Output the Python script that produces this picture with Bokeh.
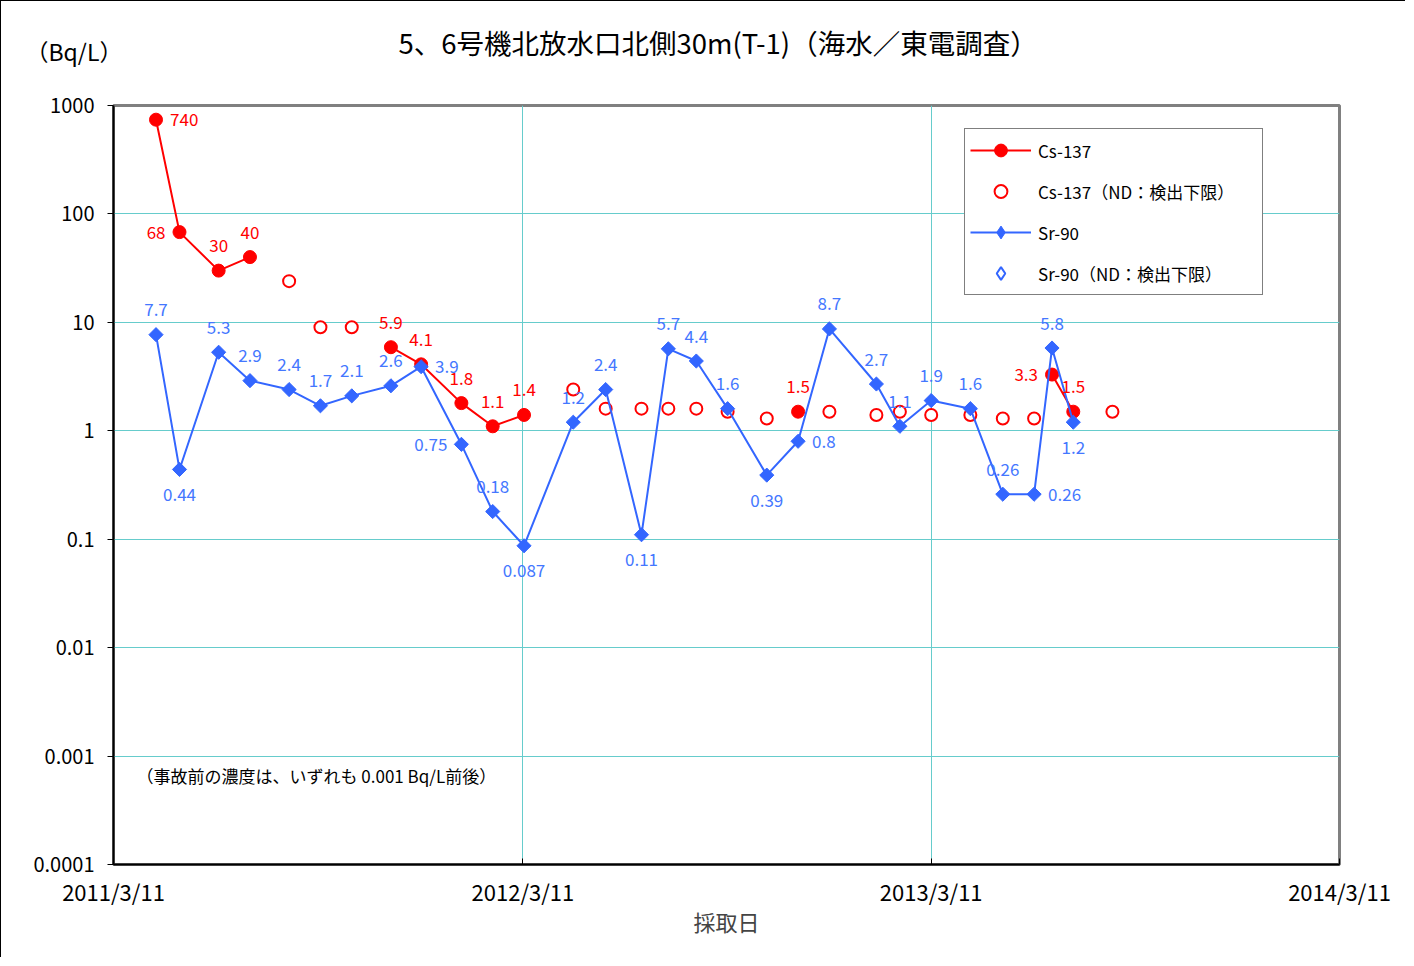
import math
import pandas as pd
from bokeh.plotting import figure
from bokeh.models import (ColumnDataSource, FixedTicker, Legend, LegendItem, Label, Range1d)
from bokeh.core.properties import value
from bokeh.embed import file_html
from bokeh.resources import INLINE

nan = float("nan")

# ---------------- data ----------------
dates = ["2011-04-18", "2011-05-09", "2011-06-13", "2011-07-11", "2011-08-15",
         "2011-09-12", "2011-10-10", "2011-11-14", "2011-12-11", "2012-01-16",
         "2012-02-13", "2012-03-12", "2012-04-25", "2012-05-24", "2012-06-25",
         "2012-07-19", "2012-08-13", "2012-09-10", "2012-10-15", "2012-11-12",
         "2012-12-10", "2013-01-21", "2013-02-11", "2013-03-11", "2013-04-15",
         "2013-05-14", "2013-06-11", "2013-06-27", "2013-07-16", "2013-08-20"]

cs137 = [740, 68, 30, 40, nan, nan, nan, 5.9, 4.1, 1.8,
         1.1, 1.4, nan, nan, nan, nan, nan, nan, nan, 1.5,
         nan, nan, nan, nan, nan, nan, nan, 3.3, 1.5, nan]

cs137_nd = [nan, nan, nan, nan, 24, 9, 9, nan, nan, nan,
            nan, nan, 2.4, 1.6, 1.6, 1.6, 1.6, 1.5, 1.3, nan,
            1.5, 1.4, 1.5, 1.4, 1.4, 1.3, 1.3, nan, nan, 1.5]

sr90 = [7.7, 0.44, 5.3, 2.9, 2.4, 1.7, 2.1, 2.6, 3.9, 0.75,
        0.18, 0.087, 1.2, 2.4, 0.11, 5.7, 4.4, 1.6, 0.39, 0.8,
        8.7, 2.7, 1.1, 1.9, 1.6, 0.26, 0.26, 5.8, 1.2, nan]

sr90_nd = [nan] * 30

# label placement: a=above, b=below, l=left, r=right
cs137_label_pos = ["r", "l", "a", "a", "", "", "", "a", "a", "a",
                   "a", "a", "", "", "", "", "", "", "", "a",
                   "", "", "", "", "", "", "", "l", "a", ""]
sr90_label_pos = ["a", "b", "a", "a", "a", "a", "a", "a", "r", "l",
                  "a", "b", "a", "a", "b", "a", "a", "a", "b", "r",
                  "a", "a", "a", "a", "a", "a", "r", "a", "b", ""]

x_tick_dates = ["2011-03-11", "2012-03-11", "2013-03-11", "2014-03-11"]
x_tick_labels = ["2011/3/11", "2012/3/11", "2013/3/11", "2014/3/11"]
y_ticks = [0.0001, 0.001, 0.01, 0.1, 1, 10, 100, 1000]
y_tick_labels = ["0.0001", "0.001", "0.01", "0.1", "1", "10", "100", "1000"]

title_text = "5、6号機北放水口北側30m(T-1)（海水／東電調査）"
unit_text = "（Bq/L）"
note_text = "（事故前の濃度は、いずれも 0.001 Bq/L前後）"
x_label = "採取日"
legend_labels = ["Cs-137", "Cs-137（ND：検出下限）", "Sr-90", "Sr-90（ND：検出下限）"]

# ---------------- styles ----------------
FONT = "Noto Sans CJK JP"
RED = "#FF0000"
BLUE = "#3366FF"
BLUE_TXT = "#4477FF"
GRID = "#66CCCC"

x = pd.to_datetime(dates)
epoch = pd.Timestamp("1970-01-01")


def ms(d):
    return (pd.Timestamp(d) - epoch) / pd.Timedelta(milliseconds=1)


src = ColumnDataSource(dict(x=x, cs=cs137, csnd=cs137_nd, sr=sr90, srnd=sr90_nd))

p = figure(width=1405, height=957, output_backend="svg", toolbar_location=None,
           x_axis_type="datetime", y_axis_type="log",
           x_range=Range1d(ms(x_tick_dates[0]), ms(x_tick_dates[-1])),
           y_range=Range1d(y_ticks[0], y_ticks[-1]),
           min_border_left=112, min_border_right=67, min_border_top=104,
           min_border_bottom=94)
p.styles = {"border-top": "1px solid black", "border-left": "1px solid black"}
p.background_fill_color = "white"
p.border_fill_color = "white"
p.outline_line_color = "#808080"
p.outline_line_width = 3

# title
p.title.text = title_text
p.title.align = "left"
p.title.offset = 285
p.title.standoff = 19
p.title.text_font = FONT
p.title.text_font_size = "27.5px"
p.title.text_font_style = "normal"
p.title.text_color = "black"

# grid
p.xgrid.ticker = FixedTicker(ticks=[ms(d) for d in x_tick_dates])
p.ygrid.ticker = FixedTicker(ticks=y_ticks)
for g in (p.xgrid, p.ygrid):
    g.grid_line_color = GRID
    g.grid_line_width = 1

# axes
xa = p.xaxis[0]
xa.ticker = FixedTicker(ticks=[ms(d) for d in x_tick_dates])
xa.major_label_overrides = {ms(d): t for d, t in zip(x_tick_dates, x_tick_labels)}
xa.major_tick_in = 6
xa.major_tick_out = 0
xa.minor_tick_line_color = None
xa.axis_line_color = "black"
xa.axis_line_width = 2
xa.major_label_standoff = 10
xa.major_label_text_font = FONT
xa.major_label_text_font_size = "22px"
xa.major_label_text_color = "black"
xa.axis_label = x_label
xa.axis_label_text_font = FONT
xa.axis_label_text_font_size = "22px"
xa.axis_label_text_font_style = "normal"
xa.axis_label_standoff = -5

ya = p.yaxis[0]
ya.ticker = FixedTicker(ticks=y_ticks)
ya.major_label_overrides = {v: t for v, t in zip(y_ticks, y_tick_labels)}
ya.major_tick_in = 0
ya.major_tick_out = 6
ya.minor_tick_line_color = None
ya.axis_line_color = "black"
ya.axis_line_width = 2
ya.major_label_standoff = 13
ya.major_label_text_font = FONT
ya.major_label_text_font_size = "20px"
ya.major_label_text_color = "black"

# series
cs_line = p.line("x", "cs", source=src, line_color=RED, line_width=2)
cs_pts = p.scatter("x", "cs", source=src, marker="circle", size=13,
                   fill_color=RED, line_color=RED)
csnd_pts = p.scatter("x", "csnd", source=src, marker="circle", size=12,
                     fill_color="white", line_color=RED, line_width=2)
sr_line = p.line("x", "sr", source=src, line_color=BLUE, line_width=2)
sr_pts = p.scatter("x", "sr", source=src, marker="square", angle=math.pi / 4,
                   size=10, fill_color=BLUE, line_color=BLUE)
srnd_pts = p.scatter("x", "srnd", source=src, marker="square", angle=math.pi / 4,
                     size=9, fill_color="white", line_color=BLUE, line_width=2)
# legend-only glyphs (no visible data)
sr_leg_line = p.line("x", "srnd", source=src, line_color=BLUE, line_width=2)
sr_leg_pts = p.scatter("x", "srnd", source=src, marker="diamond", size=14,
                       fill_color=BLUE, line_color=BLUE)
srnd_leg_pts = p.scatter("x", "srnd", source=src, marker="diamond", size=14,
                         fill_color="white", line_color=BLUE, line_width=2)


def label_source(vals, pos):
    d = dict(x=[], y=[], t=[], xo=[], yo=[], al=[])
    for xi, v, ps in zip(x, vals, pos):
        if not ps or v != v:
            continue
        d["x"].append(xi)
        d["y"].append(v)
        d["t"].append(f"{v:g}")
        if ps == "a":
            d["xo"].append(0); d["yo"].append(-25); d["al"].append("center")
        elif ps == "b":
            d["xo"].append(0); d["yo"].append(25); d["al"].append("center")
        elif ps == "r":
            d["xo"].append(14); d["yo"].append(0); d["al"].append("left")
        else:
            d["xo"].append(-14); d["yo"].append(0); d["al"].append("right")
    return ColumnDataSource(d)


for vals, pos, col in ((sr90, sr90_label_pos, BLUE_TXT), (cs137, cs137_label_pos, RED)):
    p.text("x", "y", text="t", source=label_source(vals, pos), x_offset="xo",
           y_offset="yo", text_align="al", text_baseline="middle",
           text_color=col, text_font=value(FONT), text_font_size="17px")

# legend
legend = Legend(items=[
    LegendItem(label=legend_labels[0], renderers=[cs_line, cs_pts]),
    LegendItem(label=legend_labels[1], renderers=[csnd_pts]),
    LegendItem(label=legend_labels[2], renderers=[sr_leg_line, sr_leg_pts]),
    LegendItem(label=legend_labels[3], renderers=[srnd_leg_pts]),
], location=(851, 569), padding=5, spacing=9, label_height=32, glyph_height=32,
    glyph_width=61, label_standoff=7, label_width=219, margin=0,
    border_line_color="black", border_line_width=1, background_fill_color="white",
    background_fill_alpha=1, label_text_font=FONT, label_text_font_size="17px",
    label_text_color="black")
p.add_layout(legend, "center")

# texts
p.add_layout(Label(x=23, y=48, x_units="canvas", y_units="canvas", text=unit_text,
                   text_align="left", text_baseline="middle", text_font=FONT,
                   text_font_size="23px", text_color="black"), "above")
p.add_layout(Label(x=23, y=89, x_units="screen", y_units="screen", text=note_text,
                   text_align="left", text_baseline="middle", text_font=FONT,
                   text_font_size="17px", text_color="black"))

open("out.html", "w").write(file_html(p, INLINE))
